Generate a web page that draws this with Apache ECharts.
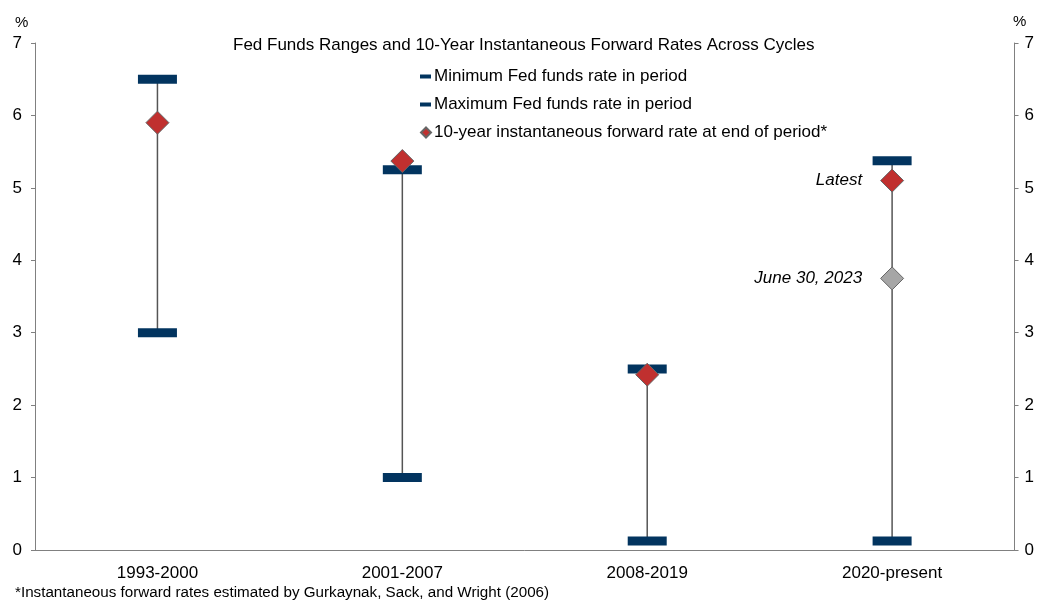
<!DOCTYPE html>
<html>
<head>
<meta charset="utf-8">
<script src="https://cdn.jsdelivr.net/npm/echarts@6/dist/echarts.min.js"></script>
<style>
  html, body { margin: 0; padding: 0; background: #fff; }
  #chart { width: 1037px; height: 601px; }
</style>
</head>
<body>
<div id="chart"></div>
<script>
  // periods and rates (percent)
  var periods = ['1993-2000', '2001-2007', '2008-2019', '2020-present']
  var minFedFunds = [3.0, 1.0, 0.125, 0.125]
  var maxFedFunds = [6.5, 5.25, 2.5, 5.375]
  var forwardRate = [5.9, 5.37, 2.42, 5.1]
  var june2023Rate = [null, null, null, 3.75]
  var yTicks = [0, 1, 2, 3, 4, 5, 6, 7]

  var navy = '#02345f'
  var red = '#c0302f'
  var font = 'Liberation Sans, Arial, sans-serif'

  var myChart = echarts.init(document.getElementById('chart'))

  var rangeData = periods.map(function (p, i) {
    return [i, minFedFunds[i], maxFedFunds[i]]
  })

  var yAxisBase = {
    type: 'value',
    min: yTicks[0],
    max: yTicks[yTicks.length - 1],
    interval: 1,
    axisLine: { show: true, lineStyle: { color: '#808080', width: 1 } },
    axisTick: { show: true, length: 4, lineStyle: { color: '#808080' } },
    axisLabel: { color: '#000', fontSize: 17, fontFamily: font, margin: 13 },
    splitLine: { show: false }
  }

  var legendText = { color: '#000', fontSize: 17, fontFamily: font, padding: [0, 0, 0, -2] }

  var option = {
    animation: false,
    backgroundColor: '#fff',
    textStyle: { fontFamily: font },
    title: {
      text: 'Fed Funds Ranges and 10-Year Instantaneous Forward Rates Across Cycles',
      left: 228,
      top: 32,
      textStyle: { color: '#000', fontSize: 17, fontWeight: 'normal', fontFamily: font }
    },
    legend: [{
      data: ['Minimum Fed funds rate in period'],
      left: 415, top: 63,
      icon: 'rect', itemWidth: 11, itemHeight: 4,
      textStyle: legendText
    }, {
      data: ['Maximum Fed funds rate in period'],
      left: 415, top: 91,
      icon: 'rect', itemWidth: 11, itemHeight: 4,
      textStyle: legendText
    }, {
      data: ['10-year instantaneous forward rate at end of period*'],
      left: 415, top: 119,
      icon: 'diamond', itemWidth: 10, itemHeight: 10,
      textStyle: legendText
    }],
    grid: { left: 35, right: 20, top: 43, bottom: 51 },
    xAxis: {
      type: 'category',
      data: periods,
      axisLine: { show: true, lineStyle: { color: '#808080', width: 1 } },
      axisTick: { show: false },
      axisLabel: { color: '#000', fontSize: 17, fontFamily: font, margin: 15 }
    },
    yAxis: [
      Object.assign({}, yAxisBase, { position: 'left' }),
      Object.assign({}, yAxisBase, { position: 'right', axisLabel: Object.assign({}, yAxisBase.axisLabel, { margin: 10 }) })
    ],
    graphic: [{
      type: 'text', left: 15, top: 15,
      style: { text: '%', fill: '#000', font: '15px ' + font }
    }, {
      type: 'text', left: 1013, top: 14,
      style: { text: '%', fill: '#000', font: '15px ' + font }
    }, {
      type: 'text', left: 15, top: 585,
      style: {
        text: '*Instantaneous forward rates estimated by Gurkaynak, Sack, and Wright (2006)',
        fill: '#000',
        font: '15.2px ' + font
      }
    }],
    series: [{
      name: 'range',
      type: 'custom',
      z: 1,
      data: rangeData,
      renderItem: function (params, api) {
        var lo = api.coord([api.value(0), api.value(1)])
        var hi = api.coord([api.value(0), api.value(2)])
        return {
          type: 'line',
          shape: { x1: lo[0], y1: lo[1], x2: hi[0], y2: hi[1] },
          style: { stroke: '#555', lineWidth: 1.5 }
        }
      }
    }, {
      name: 'Minimum Fed funds rate in period',
      type: 'scatter',
      z: 2,
      symbol: 'rect',
      symbolSize: [39, 9],
      itemStyle: { color: navy, opacity: 1 },
      data: minFedFunds
    }, {
      name: 'Maximum Fed funds rate in period',
      type: 'scatter',
      z: 2,
      symbol: 'rect',
      symbolSize: [39, 9],
      itemStyle: { color: navy, opacity: 1 },
      data: maxFedFunds
    }, {
      name: '10-year instantaneous forward rate at end of period*',
      type: 'scatter',
      z: 3,
      symbol: 'diamond',
      symbolSize: 23,
      itemStyle: { color: red, borderColor: '#666', borderWidth: 1, opacity: 1 },
      data: forwardRate.map(function (v, i) {
        if (i === 3) {
          return {
            value: v,
            label: {
              show: true, position: 'left', distance: 18,
              formatter: 'Latest',
              color: '#000', fontSize: 17, fontStyle: 'italic', fontFamily: font
            }
          }
        }
        return v
      })
    }, {
      name: 'June 30, 2023',
      type: 'scatter',
      z: 3,
      symbol: 'diamond',
      symbolSize: 23,
      itemStyle: { color: '#a6a6a6', borderColor: '#666', borderWidth: 1, opacity: 1 },
      label: {
        show: true, position: 'left', distance: 18,
        formatter: 'June 30, 2023',
        color: '#000', fontSize: 17, fontStyle: 'italic', fontFamily: font
      },
      data: june2023Rate
    }]
  }
  myChart.setOption(option)
</script>
</body>
</html>
